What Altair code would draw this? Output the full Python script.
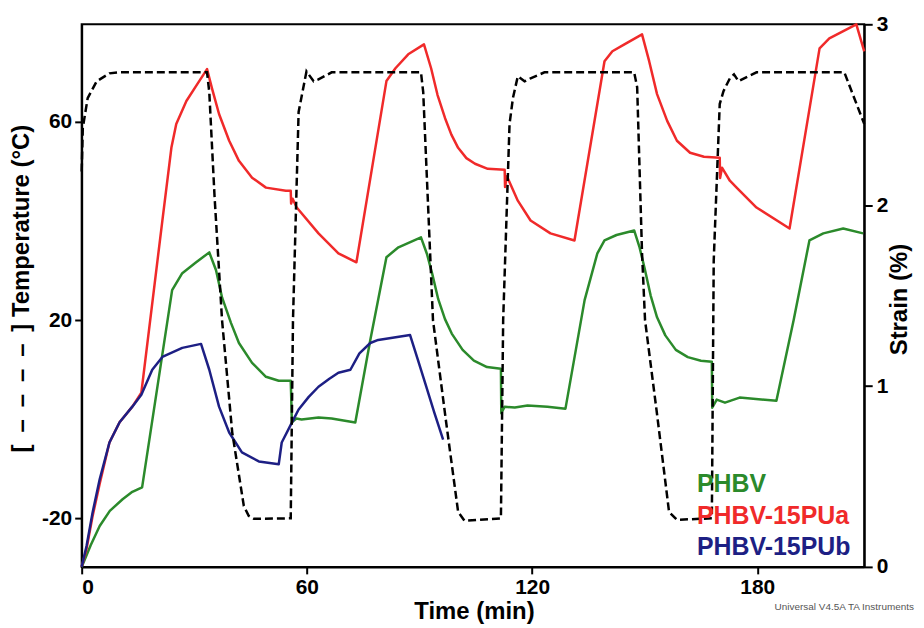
import altair as alt
import pandas as pd

# ---- data ----
temp_t = [0, 0.3, 1.6, 4, 7.4, 10, 33.4, 34.0, 35.4, 37.4, 40.1, 43.2, 44.5, 45.9, 55.7, 56.3, 57.8, 59.9, 61.8, 63.1, 66.6,
          90.4, 91.0, 93.6, 97, 100.3, 102, 111.7, 112.3, 114, 114.9, 116.2, 118, 119.6, 123.3,
          147.2, 148.0, 149.3, 150.1, 153.3, 156.5, 158.6, 167.9, 168.4, 170, 171, 172.7, 173.8, 175, 176.5, 179.8,
          203.2, 208.5]
temp_c = [50, 58.8, 64.8, 68.2, 69.8, 70, 70, 66, 45, 20, -2.6, -17.5, -19.5, -20.1, -20, 20, 62, 70.2, 68.2, 68.6, 70,
          70, 66, 20, 0, -18.7, -20.5, -20, 20, 59.6, 64.8, 69.2, 68.2, 68.8, 70,
          70, 67, 33.5, 20, 1, -18.7, -20.3, -20, 32, 63.6, 66.2, 68.8, 69.6, 68.2, 68.8, 70,
          70, 59.6]

phbv_t = [0, 2.4, 4.8, 7.5, 10.9, 13.5, 16.1, 24.1, 26.8, 30.5, 34.0, 35.8, 37.4, 39.8, 41.9, 45.4, 49.1, 52.5, 55.7,
          55.8, 56.0, 57.2, 58.6, 63.1, 66.6, 72.9, 76.9, 81.2, 84.4, 90.4,
          92.0, 93.4, 95.0, 96.8, 98.6, 101.5, 104.5, 108.0, 111.7, 111.8, 112.7, 115.4, 118.8, 124.1, 128.9,
          134.0, 137.4, 139.3, 142.5, 147.2, 148.6, 150.0, 151.6, 153.3, 155.5, 158.3, 161.5, 165.0, 167.9,
          168.0, 169.2, 171.4, 175.3, 185.1, 189.7, 193.9, 197.6, 202.9, 208.2]
phbv_s = [0, 0.12, 0.226, 0.31, 0.374, 0.415, 0.440, 1.530, 1.624, 1.684, 1.739, 1.64, 1.49, 1.348, 1.238, 1.128, 1.051, 1.029, 1.029,
          0.96, 0.80, 0.82, 0.815, 0.826, 0.820, 0.798, 1.255, 1.712, 1.767, 1.822,
          1.73, 1.62, 1.48, 1.37, 1.29, 1.20, 1.14, 1.105, 1.095, 0.85, 0.886, 0.881, 0.892, 0.886, 0.875,
          1.475, 1.734, 1.805, 1.835, 1.860, 1.77, 1.65, 1.50, 1.38, 1.28, 1.20, 1.16, 1.14, 1.134,
          0.88, 0.925, 0.908, 0.936, 0.919, 1.365, 1.805, 1.844, 1.871, 1.844]

pua_t = [0, 1.3, 2.9, 4.8, 7.4, 10.1, 13.5, 15.9, 21.5, 23.9, 25.2, 27.9, 30.8, 33.4, 34.7, 36.6, 39.3, 41.9, 45.4, 49.1,
         54.4, 55.7, 55.8, 56.2, 57.3, 63.1, 68.4, 73.2, 81.2, 83.6, 87.0, 91.2,
         93.1, 94.8, 96.8, 98.5, 100.3, 102.5, 104.8, 108.2, 112.7, 112.8, 113.3, 116.2, 119.6, 124.9, 131.3,
         139.3, 141.4, 144.6, 149.3, 151.2, 153.3, 156.0, 158.6, 162.1, 165.8, 170.0, 170.1, 170.6, 172.7,
         174.5, 179.8, 188.6, 196.6, 199.2, 206.4, 208.5]
pua_s = [0, 0.10, 0.28, 0.46, 0.688, 0.80, 0.886, 0.963, 1.915, 2.317, 2.449, 2.576, 2.669, 2.752, 2.647, 2.504, 2.356, 2.245, 2.152, 2.097,
         2.080, 2.080, 2.009, 2.036, 1.987, 1.844, 1.734, 1.684, 2.686, 2.757, 2.834, 2.889,
         2.757, 2.61, 2.482, 2.39, 2.317, 2.26, 2.229, 2.201, 2.196, 2.10, 2.16, 2.025, 1.915, 1.844, 1.805,
         2.796, 2.851, 2.889, 2.944, 2.796, 2.614, 2.466, 2.356, 2.29, 2.268, 2.262, 2.15, 2.207, 2.135,
         2.097, 1.987, 1.871, 2.867, 2.922, 3.0, 2.85]

pub_t = [0, 1.3, 2.9, 4.8, 7.4, 10.1, 13.5, 15.9, 18.8, 21.5, 26.8, 31.8, 34.0, 36.6, 39.3, 42.7, 47.2, 52.5,
         53.3, 56.0, 57.8, 60.5, 63.1, 66.0, 68.4, 71.6, 74.0, 76.9, 79.0, 87.5, 89.5, 91.5, 94.0, 96.3]
pub_s = [0, 0.116, 0.30, 0.484, 0.688, 0.80, 0.886, 0.952, 1.090, 1.161, 1.211, 1.233, 1.090, 0.886, 0.743, 0.633, 0.583, 0.567,
         0.688, 0.798, 0.870, 0.94, 0.996, 1.04, 1.073, 1.090, 1.18, 1.238, 1.255, 1.282, 1.15, 1.018, 0.85, 0.704]

series_names = ["PHBV", "PHBV-15PUa", "PHBV-15PUb"]
series_colors = ["#2b8a2b", "#f02a2a", "#1d1f84"]
x_ticks = [0, 60, 120, 180]
temp_ticks = [-20, 20, 60]
strain_ticks = [0, 1, 2, 3]
temp_title = "[\u2002–\u2002–\u2002–\u2002–\u2002] Temperature (°C)"
strain_title = "Strain (%)"
time_title = "Time (min)"
footer = "Universal V4.5A TA Instruments"

# ---- tables ----
df_temp = pd.DataFrame({"t": temp_t, "T": temp_c, "i": range(len(temp_t))})
rows = []
for name, ts, ss in zip(series_names, [phbv_t, pua_t, pub_t], [phbv_s, pua_s, pub_s]):
    for k, (a, b) in enumerate(zip(ts, ss)):
        rows.append({"series": name, "t": a, "S": b, "i": k})
df_strain = pd.DataFrame(rows)

FONT = "Liberation Sans"
W, H = 786, 545
LABEL = "'' + datum.value"

xscale = alt.Scale(domain=[0, 208.5], nice=False, zero=False)
xaxis = alt.Axis(values=x_ticks, title=time_title, titleX=394, titleY=45,
                 titleBaseline="middle", titleAlign="center", labelPadding=3, labelExpr=LABEL)

strain = alt.Chart(df_strain).mark_line(strokeWidth=2.5, strokeJoin="round").encode(
    x=alt.X("t:Q", scale=xscale, axis=xaxis),
    y=alt.Y("S:Q", scale=alt.Scale(domain=[0, 3], nice=False),
            axis=alt.Axis(orient="right", values=strain_ticks, title=strain_title,
                          titleAngle=270, titleX=35, titleY=276, titleBaseline="middle",
                          titleAlign="center", tickSize=8, labelPadding=4, labelExpr=LABEL)),
    color=alt.Color("series:N", scale=alt.Scale(domain=series_names, range=series_colors), legend=None),
    order="i:Q",
)

temp = alt.Chart(df_temp).mark_line(color="black", strokeDash=[8, 4], strokeWidth=2.5).encode(
    x=alt.X("t:Q", scale=xscale, axis=xaxis),
    y=alt.Y("T:Q", scale=alt.Scale(domain=[-29.8, 79.7], nice=False, zero=False),
            axis=alt.Axis(orient="left", values=temp_ticks, title=temp_title,
                          titleAngle=270, titleX=-60, titleY=265, titleBaseline="middle",
                          titleAlign="center", labelPadding=3, labelExpr=LABEL)),
    order="i:Q",
)

legend_y = [462, 494, 525]
texts = []
for name, col, yy in zip(series_names, series_colors, legend_y):
    texts.append(
        alt.Chart(pd.DataFrame({"a": [0]})).mark_text(
            text=name, font=FONT, fontWeight="bold", fontSize=25, color=col,
            align="left", baseline="middle"
        ).encode(x=alt.value(618), y=alt.value(yy))
    )

foot = alt.Chart(pd.DataFrame({"a": [0]})).mark_text(
    text=footer, font=FONT, fontSize=10, color="#555555", align="left", baseline="middle"
).encode(x=alt.value(696), y=alt.value(585))

chart = alt.layer(strain, temp, *texts, foot).resolve_scale(y="independent").properties(
    width=W, height=H,
    padding={"left": 74, "top": 15, "right": 52, "bottom": 59},
    autosize=alt.AutoSizeParams(type="none"),
).configure_view(stroke="black", strokeWidth=2).configure_axis(
    grid=False, domainColor="black", domainWidth=2, tickColor="black", tickWidth=2, tickSize=7,
    labelFont=FONT, labelFontWeight="bold", labelFontSize=21, labelColor="black",
    titleFont=FONT, titleFontWeight="bold", titleFontSize=24, titleColor="black",
)

chart.save("out.html", embed_options={"renderer": "svg", "actions": False})
